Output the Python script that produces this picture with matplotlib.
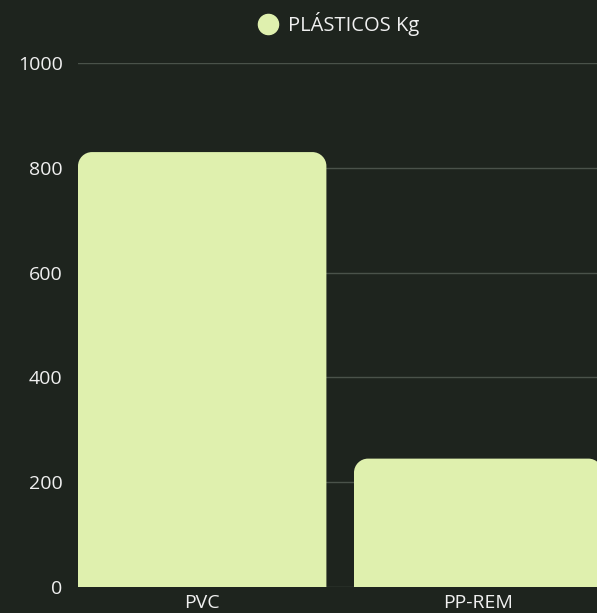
import matplotlib.pyplot as plt
from matplotlib.lines import Line2D
from matplotlib.path import Path
from matplotlib.patches import PathPatch

categories = ["PVC", "PP-REM"]
values = [830, 245]
series_label = "PLÁSTICOS Kg"
yticks = [0, 200, 400, 600, 800, 1000]

bg = "#1e241e"
bar_color = "#dff0ae"
text_color = "#f0f0f0"
grid_color = "#4a524a"

plt.rcParams['font.family'] = ['Open Sans', 'DejaVu Sans']

W, H = 597, 613
fig = plt.figure(figsize=(W / 100, H / 100), dpi=100, facecolor=bg)
# plot area in pixels: left 78, bottom at y=587, top (1000) at y=63, runs off the right edge
ax = fig.add_axes([78 / W, (H - 587) / H, (W - 78) / W, 524 / H])
ax.set_facecolor("none")

bar_w = 0.9
px_per_cat = 276
ax.set_xlim(-bar_w / 2, -bar_w / 2 + (W - 78) / px_per_cat)
ax.set_ylim(0, 1000)

# rounded top corners, radius in pixels converted to data units on each axis
r_px = 14
rx = r_px / px_per_cat
ry = r_px * 1000 / 524
k = 0.5523
for i, v in enumerate(values):
    x0, x1 = i - bar_w / 2, i + bar_w / 2
    verts = [
        (x0, 0), (x0, v - ry),
        (x0, v - ry + k * ry), (x0 + rx - k * rx, v), (x0 + rx, v),
        (x1 - rx, v),
        (x1 - rx + k * rx, v), (x1, v - ry + k * ry), (x1, v - ry),
        (x1, 0), (x0, 0),
    ]
    codes = [Path.MOVETO, Path.LINETO,
             Path.CURVE4, Path.CURVE4, Path.CURVE4,
             Path.LINETO,
             Path.CURVE4, Path.CURVE4, Path.CURVE4,
             Path.LINETO, Path.CLOSEPOLY]
    ax.add_patch(PathPatch(Path(verts, codes), facecolor=bar_color,
                           edgecolor="none", zorder=2))

ax.set_yticks(yticks)
ax.set_xticks(range(len(categories)))
ax.set_xticklabels(categories)
ax.grid(axis="y", color=grid_color, linewidth=1)
ax.set_axisbelow(True)
for s in ax.spines.values():
    s.set_visible(False)
ax.tick_params(axis="y", length=0, pad=11, labelsize=14, labelcolor=text_color)
ax.tick_params(axis="x", length=0, pad=5, labelsize=14, labelcolor=text_color)

handle = Line2D([], [], linestyle="none", marker="o", markersize=14.5,
                markerfacecolor=bar_color, markeredgecolor=bar_color)
fig.legend(handles=[handle], labels=[series_label], loc="center",
           bbox_to_anchor=(339 / W, 1 - 24 / H), frameon=False,
           fontsize=14.5, labelcolor=text_color, handlelength=1.0,
           handletextpad=0.5, borderpad=0)

fig.savefig("out.png", dpi=100, facecolor=bg)
